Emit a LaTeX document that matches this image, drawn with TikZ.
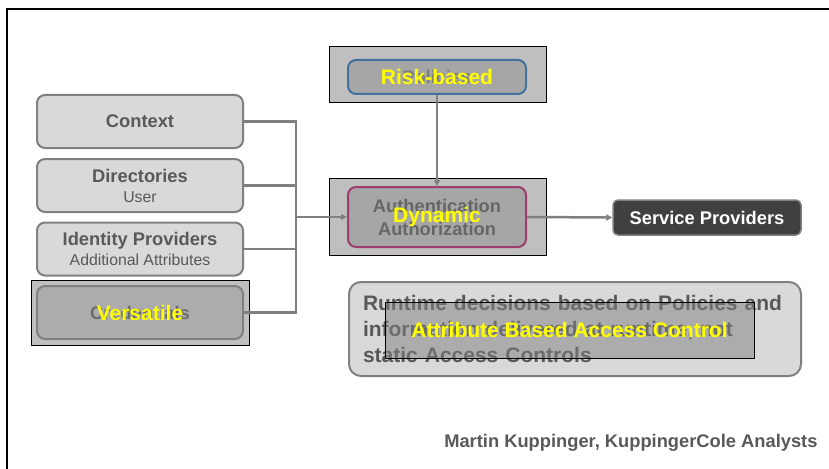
\documentclass[tikz,border=0pt]{standalone}
\usepackage{fontspec}
\setmainfont{Liberation Sans}
\usepackage{tikz}
\usetikzlibrary{arrows.meta, positioning, calc}

\definecolor{boxfill}{HTML}{D9D9D9}
\definecolor{boxline}{HTML}{808080}
\definecolor{txtgray}{HTML}{595959}
\definecolor{riskblue}{HTML}{41719C}
\definecolor{authplum}{HTML}{9E3D6E}
\definecolor{darkbox}{HTML}{404040}
\definecolor{hilite}{HTML}{FFFF00}

\tikzset{
    srcbox/.style={draw=boxline, fill=boxfill, line width=2pt, rounded corners=8pt,
        minimum width=206pt, minimum height=53pt, inner sep=0pt,
        text=txtgray, align=center, font=\fontsize{15.8}{20}\selectfont},
    cover/.style={draw=black, line width=1pt, fill=boxline, fill opacity=0.5,
        text opacity=1, inner sep=0pt},
    innerbox/.style={fill=black!35, line width=2pt, rounded corners=8pt,
        minimum width=178pt, inner sep=0pt, align=center},
    yellowtxt/.style={text=hilite, font=\fontsize{21}{24}\selectfont\bfseries},
    link/.style={draw=boxline, line width=2.5pt},
    arrowlink/.style={link, -{Triangle[length=6pt, width=6pt]}}
}

\newcommand{\titlefont}{\fontsize{18.3}{21}\selectfont\bfseries}

\begin{document}
\begin{tikzpicture}[x=1pt, y=-1pt]

    \useasboundingbox (0,0) rectangle (829,468);

    % ============================================================
    % SLIDE FRAME
    % ============================================================
    \draw[black, line width=2pt] (7,470) -- (7,9) -- (831,9);

    % ============================================================
    % SOURCES (LEFT COLUMN)
    % ============================================================
    \node[srcbox] (ctx) at (140,121.5) {\titlefont Context};
    \node[srcbox] (dirs) at (140,185.5) {\titlefont Directories\\User};
    \node[srcbox] (idp) at (140,249) {\titlefont Identity Providers\\Additional Attributes};
    \node[srcbox] (cred) at (140,312.5) {\titlefont Credentials};

    % ============================================================
    % RUNTIME TEXT BOX
    % ============================================================
    \node[draw=boxline, fill=boxfill, line width=2pt, rounded corners=12pt,
        minimum width=452pt, minimum height=94pt, inner sep=0pt,
        text width=424pt, align=left, text=txtgray,
        font=\fontsize{21}{26}\selectfont\bfseries] (runtime) at (575,329)
        {Runtime decisions based on Policies and\\information delivered at runtime, not\\static Access Controls};

    % ============================================================
    % SERVICE PROVIDERS
    % ============================================================
    \node[draw=boxline, fill=darkbox, line width=1.5pt, rounded corners=5pt,
        minimum width=188pt, minimum height=35pt, inner sep=0pt, text=white,
        font=\titlefont] (sp) at (707,217.5) {Service Providers};

    % ============================================================
    % OVERLAYS
    % ============================================================
    \node[cover, minimum width=218pt, minimum height=65pt, yellowtxt] (versatile) at (140,312.5) {Versatile};
    \node[cover, minimum width=217pt, minimum height=56pt] (riskcover) at (437.5,75) {};
    \node[cover, minimum width=217pt, minimum height=77pt] (authcover) at (437.5,216.5) {};

    \node[innerbox, draw=riskblue, minimum height=34pt, text=black!50,
        font=\titlefont] (risk) at (437,77) {Policies};
    \node[yellowtxt] (risklabel) at (risk) {Risk-based};

    \node[innerbox, draw=authplum, minimum height=60pt, text=black!60,
        font=\fontsize{18.3}{23}\selectfont\bfseries] (auth) at (437,217) {Authentication\\Authorization};
    \node[yellowtxt] (authlabel) at (auth) {Dynamic};

    \node[cover, minimum width=369pt, minimum height=56pt, yellowtxt] (abac) at (569.5,330) {Attribute Based Access Control};

    % ============================================================
    % CONNECTORS
    % ============================================================
    \coordinate (join) at (296,217);
    \draw[link] (ctx.east) -- (ctx.east -| join) -- (cred.east -| join) -- (cred.east);
    \draw[link] (dirs.east) -- (dirs.east -| join);
    \draw[link] (idp.east) -- (idp.east -| join);
    \draw[arrowlink] (join) -- (auth.west);
    \draw[arrowlink] (risk.south) -- (auth.north);
    \draw[arrowlink] (auth.east) -- (sp.west);

    % ============================================================
    % FOOTER
    % ============================================================
    \node[anchor=east, text=txtgray, font=\fontsize{18.3}{21}\selectfont\bfseries] (author) at (821,443)
        {Martin Kuppinger, KuppingerCole Analysts};

\end{tikzpicture}
\end{document}
